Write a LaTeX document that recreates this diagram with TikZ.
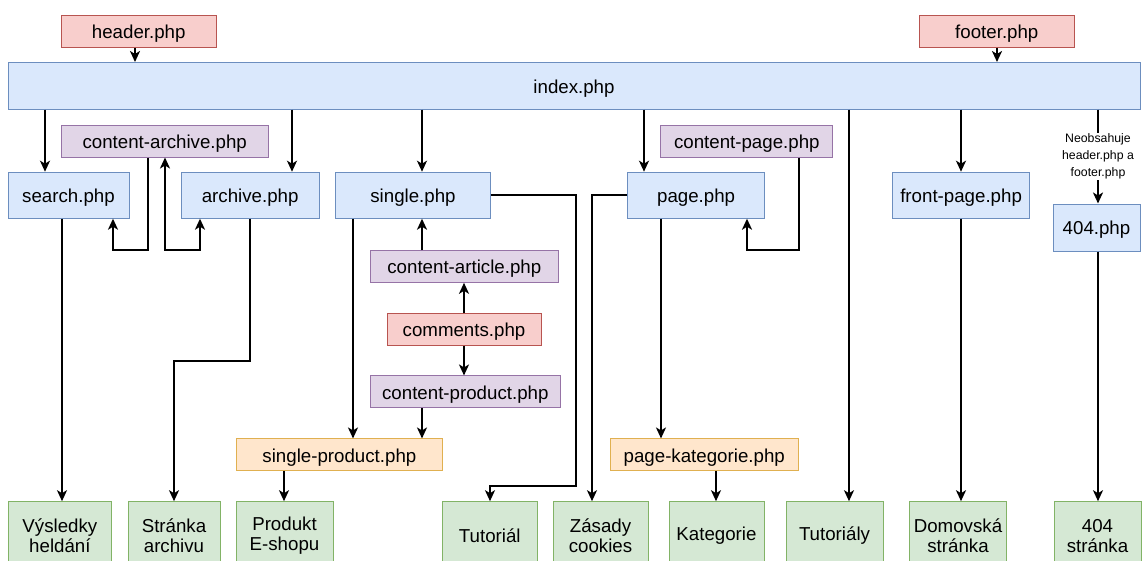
\documentclass[tikz,border=0pt]{standalone}
\usepackage{fontspec}
\setmainfont{Liberation Sans}
\usetikzlibrary{arrows.meta}
\definecolor{bfill}{HTML}{DAE8FC}\definecolor{bline}{HTML}{6C8EBF}
\definecolor{rfill}{HTML}{F8CECC}\definecolor{rline}{HTML}{B85450}
\definecolor{pfill}{HTML}{E1D5E7}\definecolor{pline}{HTML}{9673A6}
\definecolor{ofill}{HTML}{FFE6CC}\definecolor{oline}{HTML}{E0B050}
\definecolor{gfill}{HTML}{D5E8D4}\definecolor{gline}{HTML}{82B366}
\tikzset{
  box/.style={draw, line width=1pt, inner sep=0pt, align=center,
    font=\fontsize{18.7}{20}\selectfont},
  onel/.style={box, text height=16pt, text depth=1.4pt},
  bluebox/.style={onel, fill=bfill, draw=bline},
  redbox/.style={onel, fill=rfill, draw=rline},
  purplebox/.style={onel, fill=pfill, draw=pline},
  orangebox/.style={onel, fill=ofill, draw=oline},
  greenbox/.style={box, fill=gfill, draw=gline, minimum height=68pt},
  tip/.tip={Stealth[length=11pt,width=10pt,inset=3pt]},
  conn/.style={line width=2.4pt, -tip},
  dbl/.style={line width=2.4pt, tip-tip},
  lbl/.style={font=\fontsize{12.3}{17}\selectfont, align=center, fill=white, inner sep=1pt}
}
\begin{document}
\begin{tikzpicture}[x=1pt,y=-1pt]
\useasboundingbox (0,0) rectangle (1144,560);
\clip (0,0) rectangle (1144,560);
\fill[white] (0,0) rectangle (1144,560);

% top
\node[redbox, minimum width=154.5pt, minimum height=32pt] (header) at (138.75,31) {header.php};
\node[redbox, minimum width=154.5pt, minimum height=32pt] (footer) at (996.8,31) {footer.php};
\node[bluebox, minimum width=1132pt, minimum height=46.5pt] (index) at (574,85.75) {index.php};

% second row
\node[purplebox, minimum width=206.6pt, minimum height=32pt] (carch) at (164.7,141) {content-archive.php};
\node[purplebox, minimum width=172pt, minimum height=32pt] (cpage) at (746.8,141) {content-page.php};
\node[bluebox, minimum width=121pt, minimum height=46pt] (search) at (68.5,195.2) {search.php};
\node[bluebox, minimum width=138.3pt, minimum height=46pt] (archive) at (250.15,195.2) {archive.php};
\node[bluebox, minimum width=155pt, minimum height=46pt] (single) at (413,195.2) {single.php};
\node[bluebox, minimum width=137.2pt, minimum height=46pt] (page) at (696.1,195.2) {page.php};
\node[bluebox, minimum width=137.2pt, minimum height=46pt] (front) at (961.1,195.2) {front-page.php};
\node[bluebox, minimum width=87pt, minimum height=47pt] (e404) at (1096.5,227.5) {404.php};

% middle
\node[purplebox, minimum width=188.6pt, minimum height=31.6pt] (carticle) at (464.3,266.5) {content-article.php};
\node[redbox, minimum width=154pt, minimum height=31.5pt] (comments) at (464,329.3) {comments.php};
\node[purplebox, minimum width=190.6pt, minimum height=31.7pt] (cproduct) at (465.3,391.8) {content-product.php};
\node[orangebox, minimum width=206pt, minimum height=31.5pt] (sproduct) at (339.4,454.7) {single-product.php};
\node[orangebox, minimum width=188.5pt, minimum height=31.5pt] (pkat) at (704.25,454.7) {page-kategorie.php};

% bottom
\node[greenbox, minimum width=102.3pt] (vys) at (59.9,535.7) {Výsledky\\heldání};
\node[greenbox, minimum width=92pt] (sarch) at (174,535.7) {Stránka\\archivu};
\node[greenbox, minimum width=97pt] (prod) at (284.5,535.7) {Produkt\\E-shopu};
\node[greenbox, minimum width=95.5pt] (tut) at (489.8,535.7) {Tutoriál};
\node[greenbox, minimum width=95pt] (zas) at (600.5,535.7) {Zásady\\cookies};
\node[greenbox, minimum width=95pt] (kat) at (716.5,535.7) {Kategorie};
\node[greenbox, minimum width=97pt] (tuty) at (834.5,535.7) {Tutoriály};
\node[greenbox, minimum width=97pt] (dom) at (958,535.7) {Domovská\\stránka};
\node[greenbox, minimum width=87pt] (s404) at (1097.5,535.7) {404\\stránka};

% column helpers
\foreach \n/\x in {hA/135,fA/997,iA/45,iB/292,iC/422,iD/644,iE/849,iF/961,iG/1098,
  sA/62,caA/148,caB/113,caC/165,caD/200,arA/250,arB/174,siA/353,coA/464,siB/576,siC/490,
  paA/592,paB/661,pkA/716,spA/284,cpA/799,cpB/747}
  \coordinate (\n) at (\x,0);
\coordinate (y250) at (0,250);
\coordinate (y360) at (0,361);
\coordinate (y486) at (0,486);

% header/footer
\draw[conn] (header.south -| hA) -- (index.north -| hA);
\draw[conn] (footer.south -| fA) -- (index.north -| fA);

% index to second row
\draw[conn] (index.south -| iA) -- (search.north -| iA);
\draw[conn] (index.south -| iB) -- (archive.north -| iB);
\draw[conn] (index.south -| iC) -- (single.north -| iC);
\draw[conn] (index.south -| iD) -- (page.north -| iD);
\draw[conn] (index.south -| iF) -- (front.north -| iF);
\draw[conn] (index.south -| iE) -- (tuty.north -| iE);
\draw[conn] (index.south -| iG) -- node[lbl] {Neobsahuje\\header.php a\\footer.php} (e404.north -| iG);

% content-archive
\draw[conn] (carch.south -| caA) |- (y250 -| caB) -- (search.south -| caB);
\draw[dbl] (carch.south -| caC) |- (y250 -| caD) -- (archive.south -| caD);

% content-page
\draw[conn] (cpage.south -| cpA) |- (y250 -| cpB) -- (page.south -| cpB);

% single column
\draw[conn] (carticle.north -| iC) -- (single.south -| iC);
\draw[conn] (comments.north -| coA) -- (carticle.south -| coA);
\draw[conn] (comments.south -| coA) -- (cproduct.north -| coA);
\draw[conn] (cproduct.south -| iC) -- (sproduct.north -| iC);
\draw[conn] (single.south -| siA) -- (sproduct.north -| siA);
\draw[conn] (sproduct.south -| spA) -- (prod.north -| spA);
\draw[conn] (single.east) -| (y486 -| siB) -| (tut.north -| siC);

% page
\draw[conn] (page.west) -| (zas.north -| paA);
\draw[conn] (page.south -| paB) -- (pkat.north -| paB);
\draw[conn] (pkat.south -| pkA) -- (kat.north -| pkA);

% others
\draw[conn] (search.south -| sA) -- (vys.north -| sA);
\draw[conn] (archive.south -| arA) |- (y360 -| arB) -- (sarch.north -| arB);
\draw[conn] (front.south -| iF) -- (dom.north -| iF);
\draw[conn] (e404.south -| iG) -- (s404.north -| iG);
\end{tikzpicture}
\end{document}
